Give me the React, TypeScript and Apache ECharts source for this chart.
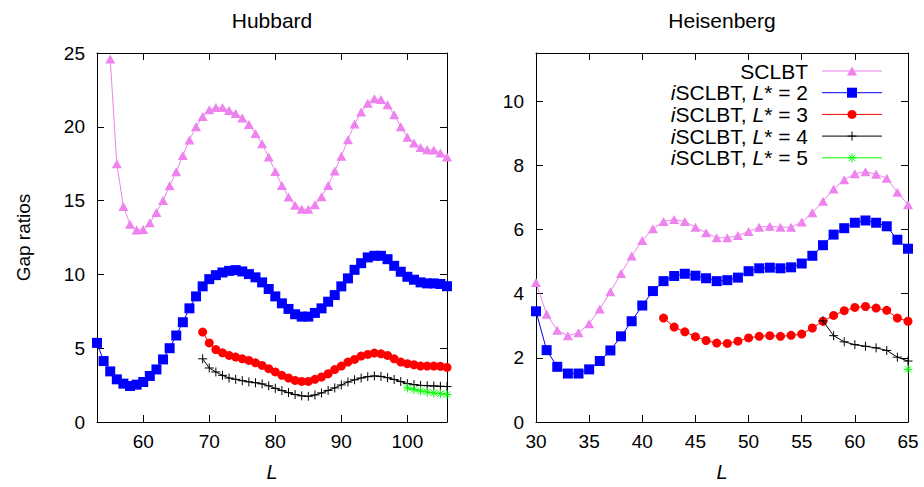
import React, { useEffect, useRef } from 'react';
import * as echarts from 'echarts';

// ---------- Hubbard panel data ----------
const hubSclbtL = [55, 56, 57, 58, 59, 60, 61, 62, 63, 64, 65, 66, 67, 68, 69, 70, 71, 72, 73, 74, 75, 76, 77, 78, 79, 80, 81, 82, 83, 84, 85, 86, 87, 88, 89, 90, 91, 92, 93, 94, 95, 96, 97, 98, 99, 100, 101, 102, 103, 104, 105, 106];
const hubSclbt = [24.6, 17.5, 14.6, 13.4, 13.0, 13.05, 13.5, 14.2, 15.0, 16.0, 16.95, 18.05, 19.1, 20.0, 20.7, 21.15, 21.3, 21.3, 21.1, 20.9, 20.6, 20.15, 19.55, 18.85, 17.95, 16.97, 16.03, 15.24, 14.68, 14.41, 14.41, 14.72, 15.26, 16.03, 17.0, 18.0, 19.13, 20.19, 21.0, 21.6, 21.9, 21.85, 21.5, 20.82, 20.0, 19.3, 18.9, 18.6, 18.45, 18.42, 18.23, 17.96];

const hubI2L = [53, 54, 55, 56, 57, 58, 59, 60, 61, 62, 63, 64, 65, 66, 67, 68, 69, 70, 71, 72, 73, 74, 75, 76, 77, 78, 79, 80, 81, 82, 83, 84, 85, 86, 87, 88, 89, 90, 91, 92, 93, 94, 95, 96, 97, 98, 99, 100, 101, 102, 103, 104, 105, 106];
const hubI2 = [5.36, 4.13, 3.43, 2.89, 2.6, 2.44, 2.53, 2.71, 3.12, 3.56, 4.24, 5.0, 5.86, 6.76, 7.7, 8.51, 9.19, 9.68, 9.95, 10.13, 10.24, 10.29, 10.2, 10.02, 9.8, 9.46, 9.01, 8.51, 8.04, 7.66, 7.3, 7.14, 7.14, 7.39, 7.7, 8.15, 8.6, 9.19, 9.73, 10.31, 10.76, 11.15, 11.26, 11.26, 11.03, 10.58, 10.18, 9.84, 9.64, 9.46, 9.39, 9.39, 9.35, 9.2];

const hubI3L = [69, 70, 71, 72, 73, 74, 75, 76, 77, 78, 79, 80, 81, 82, 83, 84, 85, 86, 87, 88, 89, 90, 91, 92, 93, 94, 95, 96, 97, 98, 99, 100, 101, 102, 103, 104, 105, 106];
const hubI3 = [6.09, 5.36, 4.91, 4.69, 4.51, 4.4, 4.28, 4.17, 4.01, 3.83, 3.61, 3.39, 3.16, 2.98, 2.82, 2.75, 2.75, 2.89, 3.05, 3.27, 3.55, 3.79, 4.06, 4.24, 4.47, 4.58, 4.67, 4.62, 4.51, 4.28, 4.06, 3.95, 3.88, 3.79, 3.79, 3.79, 3.77, 3.7];

const hubI4L = [69, 70, 71, 72, 73, 74, 75, 76, 77, 78, 79, 80, 81, 82, 83, 84, 85, 86, 87, 88, 89, 90, 91, 92, 93, 94, 95, 96, 97, 98, 99, 100, 101, 102, 103, 104, 105, 106];
const hubI4 = [4.28, 3.66, 3.39, 3.16, 2.98, 2.89, 2.8, 2.72, 2.66, 2.58, 2.45, 2.28, 2.13, 1.99, 1.86, 1.77, 1.74, 1.83, 1.97, 2.14, 2.31, 2.51, 2.71, 2.86, 2.98, 3.07, 3.12, 3.09, 3.0, 2.88, 2.74, 2.6, 2.53, 2.48, 2.46, 2.44, 2.42, 2.4];

const hubI5L = [100, 101, 102, 103, 104, 105, 106];
const hubI5 = [2.31, 2.2, 2.1, 2.03, 1.97, 1.92, 1.86];

// ---------- Heisenberg panel data ----------
const heiSclbtL = [30, 31, 32, 33, 34, 35, 36, 37, 38, 39, 40, 41, 42, 43, 44, 45, 46, 47, 48, 49, 50, 51, 52, 53, 54, 55, 56, 57, 58, 59, 60, 61, 62, 63, 64, 65];
const heiSclbt = [4.35, 3.36, 2.86, 2.69, 2.78, 3.06, 3.52, 4.06, 4.63, 5.17, 5.66, 6.02, 6.25, 6.31, 6.25, 6.07, 5.9, 5.74, 5.74, 5.81, 5.94, 6.07, 6.1, 6.07, 6.07, 6.23, 6.52, 6.88, 7.26, 7.55, 7.74, 7.8, 7.72, 7.6, 7.16, 6.77];

const heiI2L = [30, 31, 32, 33, 34, 35, 36, 37, 38, 39, 40, 41, 42, 43, 44, 45, 46, 47, 48, 49, 50, 51, 52, 53, 54, 55, 56, 57, 58, 59, 60, 61, 62, 63, 64, 65];
const heiI2 = [3.45, 2.24, 1.72, 1.51, 1.51, 1.64, 1.9, 2.23, 2.67, 3.14, 3.63, 4.08, 4.39, 4.55, 4.62, 4.56, 4.48, 4.39, 4.42, 4.5, 4.7, 4.79, 4.81, 4.79, 4.82, 4.94, 5.18, 5.51, 5.84, 6.04, 6.21, 6.28, 6.21, 6.1, 5.68, 5.4];

const heiI3L = [42, 43, 44, 45, 46, 47, 48, 49, 50, 51, 52, 53, 54, 55, 56, 57, 58, 59, 60, 61, 62, 63, 64, 65];
const heiI3 = [3.24, 2.96, 2.81, 2.66, 2.54, 2.46, 2.45, 2.52, 2.62, 2.67, 2.69, 2.67, 2.7, 2.74, 2.93, 3.14, 3.32, 3.47, 3.57, 3.6, 3.55, 3.48, 3.24, 3.14];

const heiI4L = [57, 58, 59, 60, 61, 62, 63, 64, 65];
const heiI4 = [3.15, 2.69, 2.5, 2.41, 2.36, 2.31, 2.23, 2.02, 1.9];

const heiI5L = [65];
const heiI5 = [1.64];

// ---------- ticks & labels ----------
const hubXTicks = [60, 70, 80, 90, 100];
const hubYTicks = [0, 5, 10, 15, 20, 25];
const heiXTicks = [30, 35, 40, 45, 50, 55, 60, 65];
const heiYTicks = [0, 2, 4, 6, 8, 10];
const panelTitles = ['Hubbard', 'Heisenberg'];
const yAxisTitle = 'Gap ratios';
const xAxisTitle = 'L';
const legendRich = ['SCLBT', '{it|i}SCLBT, {it|L}* = 2', '{it|i}SCLBT, {it|L}* = 3', '{it|i}SCLBT, {it|L}* = 4', '{it|i}SCLBT, {it|L}* = 5'];

const FONT = '"Liberation Sans", Arial, Helvetica, sans-serif';
const PLUS = 'path://M5,0L5,10M0,5L10,5';
const STAR = 'path://M5,0L5,10M0,5L10,5M1.5,1.5L8.5,8.5M8.5,1.5L1.5,8.5';

const styles = [
  { color: '#ee82ee', symbol: 'triangle', size: [10, 9] },
  { color: '#0000ff', symbol: 'rect', size: 10 },
  { color: '#ff0000', symbol: 'circle', size: 9 },
  { color: '#000000', symbol: PLUS, size: 9 },
  { color: '#00ff00', symbol: STAR, size: 9 },
];

const zip = (xs: number[], ys: number[]) => xs.map((x, i) => [x, ys[i]]);

function mkSeries(idx: number, data: number[][], xi: number, yi: number) {
  const s = styles[idx];
  return {
    type: 'line',
    xAxisIndex: xi,
    yAxisIndex: yi,
    data,
    symbol: s.symbol,
    symbolSize: s.size,
    showAllSymbol: true,
    lineStyle: { color: s.color, width: 1 },
    itemStyle: { color: s.color, borderColor: s.color, borderWidth: idx >= 3 ? 1 : 0 },
    z: 2 + idx,
    silent: true,
  };
}

function xAx(grid: number, pos: string, min: number, max: number, ticks: number[], main: boolean) {
  return {
    type: 'value',
    gridIndex: grid,
    position: pos,
    min,
    max,
    axisLine: { show: true, onZero: false, lineStyle: { color: '#000', width: 1 } },
    axisTick: { show: true, inside: true, length: 7, customValues: ticks, lineStyle: { color: '#000', width: 1 } },
    axisLabel: main
      ? { show: true, customValues: ticks, margin: 10, fontSize: 19, color: '#000', fontFamily: FONT }
      : { show: false },
    splitLine: { show: false },
    name: main ? xAxisTitle : '',
    nameLocation: 'middle',
    nameGap: 40,
    nameTextStyle: { fontStyle: 'italic', fontSize: 20, color: '#000', fontFamily: FONT },
  };
}

function yAx(grid: number, pos: string, min: number, max: number, ticks: number[], main: boolean, withName: boolean) {
  return {
    type: 'value',
    gridIndex: grid,
    position: pos,
    min,
    max,
    axisLine: { show: true, onZero: false, lineStyle: { color: '#000', width: 1 } },
    axisTick: { show: true, inside: true, length: 7, customValues: ticks, lineStyle: { color: '#000', width: 1 } },
    axisLabel: main
      ? { show: true, customValues: ticks, margin: 12, fontSize: 19, color: '#000', fontFamily: FONT }
      : { show: false },
    splitLine: { show: false },
    name: withName ? yAxisTitle : '',
    nameLocation: 'middle',
    nameGap: 64,
    nameTextStyle: { fontSize: 19, color: '#000', fontFamily: FONT },
  };
}

function legendGraphics() {
  const els: any[] = [];
  const tx = 808, lx1 = 822, lx2 = 882, mx = 852;
  legendRich.forEach((t, i) => {
    const y = 71 + i * 21.7;
    const c = styles[i].color;
    els.push({
      type: 'text', x: tx, y,
      style: {
        text: t, fill: '#000', fontSize: 21, fontFamily: FONT, align: 'right', verticalAlign: 'middle',
        rich: { it: { fontStyle: 'italic', fontSize: 21, fontFamily: FONT, fill: '#000' } },
      },
    });
    els.push({ type: 'line', shape: { x1: lx1, y1: y, x2: lx2, y2: y }, style: { stroke: c, lineWidth: 1 } });
    if (i === 0) {
      els.push({ type: 'polygon', shape: { points: [[mx, y - 4.5], [mx + 5, y + 4.5], [mx - 5, y + 4.5]] }, style: { fill: c } });
    } else if (i === 1) {
      els.push({ type: 'rect', shape: { x: mx - 5, y: y - 5, width: 10, height: 10 }, style: { fill: c } });
    } else if (i === 2) {
      els.push({ type: 'circle', shape: { cx: mx, cy: y, r: 4.5 }, style: { fill: c } });
    } else if (i === 3) {
      els.push({ type: 'line', shape: { x1: mx - 4.5, y1: y, x2: mx + 4.5, y2: y }, style: { stroke: c, lineWidth: 1 } });
      els.push({ type: 'line', shape: { x1: mx, y1: y - 4.5, x2: mx, y2: y + 4.5 }, style: { stroke: c, lineWidth: 1 } });
    } else {
      els.push({ type: 'line', shape: { x1: mx - 4.5, y1: y, x2: mx + 4.5, y2: y }, style: { stroke: c, lineWidth: 1 } });
      els.push({ type: 'line', shape: { x1: mx, y1: y - 4.5, x2: mx, y2: y + 4.5 }, style: { stroke: c, lineWidth: 1 } });
      els.push({ type: 'line', shape: { x1: mx - 3.2, y1: y - 3.2, x2: mx + 3.2, y2: y + 3.2 }, style: { stroke: c, lineWidth: 1 } });
      els.push({ type: 'line', shape: { x1: mx + 3.2, y1: y - 3.2, x2: mx - 3.2, y2: y + 3.2 }, style: { stroke: c, lineWidth: 1 } });
    }
  });
  return els;
}

export default function App() {
  const ref = useRef<HTMLDivElement>(null);
  useEffect(() => {
    if (!ref.current) return;
    const chart = echarts.init(ref.current, undefined, { renderer: 'svg' });
    const option: any = {
      animation: false,
      backgroundColor: '#fff',
      grid: [
        { left: 97, top: 53, width: 350, height: 371 },
        { left: 536, top: 53, width: 372, height: 371 },
      ],
      xAxis: [
        xAx(0, 'bottom', 53, 106, hubXTicks, true),
        xAx(0, 'top', 53, 106, hubXTicks, false),
        xAx(1, 'bottom', 30, 65, heiXTicks, true),
        xAx(1, 'top', 30, 65, heiXTicks, false),
      ],
      yAxis: [
        yAx(0, 'left', 0, 25, hubYTicks, true, true),
        yAx(0, 'right', 0, 25, hubYTicks, false, false),
        yAx(1, 'left', 0, 11.5, heiYTicks, true, false),
        yAx(1, 'right', 0, 11.5, heiYTicks, false, false),
      ],
      series: [
        mkSeries(0, zip(hubSclbtL, hubSclbt), 0, 0),
        mkSeries(1, zip(hubI2L, hubI2), 0, 0),
        mkSeries(2, zip(hubI3L, hubI3), 0, 0),
        mkSeries(3, zip(hubI4L, hubI4), 0, 0),
        mkSeries(4, zip(hubI5L, hubI5), 0, 0),
        mkSeries(0, zip(heiSclbtL, heiSclbt), 2, 2),
        mkSeries(1, zip(heiI2L, heiI2), 2, 2),
        mkSeries(2, zip(heiI3L, heiI3), 2, 2),
        mkSeries(3, zip(heiI4L, heiI4), 2, 2),
        mkSeries(4, zip(heiI5L, heiI5), 2, 2),
      ],
      graphic: [
        { type: 'text', x: 272, y: 20, style: { text: panelTitles[0], fontSize: 21, fontFamily: FONT, fill: '#000', align: 'center', verticalAlign: 'middle' } },
        { type: 'text', x: 722, y: 20, style: { text: panelTitles[1], fontSize: 21, fontFamily: FONT, fill: '#000', align: 'center', verticalAlign: 'middle' } },
        ...legendGraphics(),
      ],
    };
    chart.setOption(option);
    return () => chart.dispose();
  }, []);
  return <div ref={ref} style={{ position: 'fixed', left: 0, top: 0, width: 924, height: 487 }} />;
}
